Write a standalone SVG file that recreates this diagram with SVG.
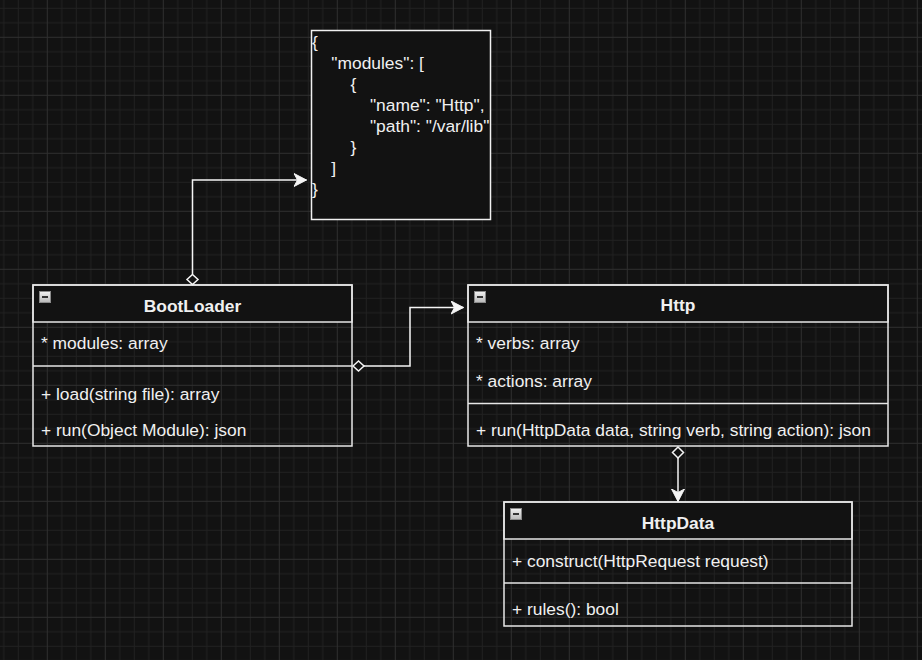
<svg xmlns="http://www.w3.org/2000/svg" width="922" height="660" viewBox="0 0 922 660">
<defs>
<pattern id="grid" patternUnits="userSpaceOnUse" x="46.8" y="36.8" width="58" height="58">
<rect x="0" y="0" width="58" height="58" fill="#121212"/>
<rect x="14.5" y="0" width="1" height="58" fill="#212121"/>
<rect x="29" y="0" width="1" height="58" fill="#212121"/>
<rect x="43.5" y="0" width="1" height="58" fill="#212121"/>
<rect x="0" y="14.5" width="58" height="1" fill="#212121"/>
<rect x="0" y="29" width="58" height="1" fill="#212121"/>
<rect x="0" y="43.5" width="58" height="1" fill="#212121"/>
<rect x="0" y="0" width="1" height="58" fill="#2f2f2f"/>
<rect x="0" y="0" width="58" height="1" fill="#2f2f2f"/>
</pattern>
<linearGradient id="ig" x1="0" y1="0" x2="0" y2="1">
<stop offset="0" stop-color="#f2f2f2"/>
<stop offset="1" stop-color="#b8b8b8"/>
</linearGradient>
<marker id="arr" viewBox="-13 -7 14 14" refX="0" refY="0" markerWidth="14" markerHeight="14" markerUnits="userSpaceOnUse" orient="auto">
<path d="M0,0 L-12.5,-6.5 L-9,0 L-12.5,6.5 Z" fill="#f5f5f5" stroke="#f5f5f5" stroke-width="1" stroke-linejoin="miter"/>
</marker>
</defs>
<style>
text{font-family:"Liberation Sans",Arial,sans-serif;font-size:17.4px;fill:#f0f0f0}
.t{font-weight:bold;text-anchor:middle}
.box{fill:none;stroke:#e6e6e6;stroke-width:1.5}
.hdr{fill:#121212;stroke:#e6e6e6;stroke-width:1.5}
.ln{stroke:#e6e6e6;stroke-width:1.5}
.ic{fill:url(#ig);stroke:#8a8a8a;stroke-width:1}
.mi{stroke:#222;stroke-width:1.8}
.con{fill:none;stroke:#f5f5f5;stroke-width:1.5}
.dia{fill:#121212;stroke:#f5f5f5;stroke-width:1.5}
</style>
<rect width="922" height="660" fill="url(#grid)"/>

<g id="json">
<rect x="311.5" y="30.5" width="179" height="189" fill="#121212" stroke="#f0f0f0" stroke-width="1.5"/>
<text x="312" y="48">{</text>
<text x="331.3" y="69">"modules": [</text>
<text x="350.6" y="90">{</text>
<text x="369.9" y="111">"name": "Http",</text>
<text x="369.9" y="132">"path": "/var/lib"</text>
<text x="350.6" y="153">}</text>
<text x="331.3" y="174">]</text>
<text x="312" y="195">}</text>
</g>

<g id="bootloader">
<rect class="hdr" x="33" y="285" width="319" height="37"/>
<rect class="box" x="33" y="285" width="319" height="161"/>
<line class="ln" x1="33" y1="366" x2="352" y2="366"/>
<rect class="ic" x="39.5" y="291.5" width="11" height="11"/>
<line class="mi" x1="42" y1="297" x2="48" y2="297"/>
<text class="t" x="192.5" y="311.5">BootLoader</text>
<text x="41" y="349">* modules: array</text>
<text x="41" y="399.5">+ load(string file): array</text>
<text x="41" y="436">+ run(Object Module): json</text>
</g>

<g id="http">
<rect class="hdr" x="468" y="285" width="420" height="37"/>
<rect class="box" x="468" y="285" width="420" height="161"/>
<line class="ln" x1="468" y1="403.5" x2="888" y2="403.5"/>
<rect class="ic" x="474.5" y="291.5" width="11" height="11"/>
<line class="mi" x1="477" y1="297" x2="483" y2="297"/>
<text class="t" x="678" y="311">Http</text>
<text x="476" y="349">* verbs: array</text>
<text x="476" y="387">* actions: array</text>
<text x="476" y="436">+ run(HttpData data, string verb, string action): json</text>
</g>

<g id="httpdata">
<rect class="hdr" x="504" y="502" width="348" height="37"/>
<rect class="box" x="504" y="502" width="348" height="124"/>
<line class="ln" x1="504" y1="583" x2="852" y2="583"/>
<rect class="ic" x="510.5" y="508.5" width="11" height="11"/>
<line class="mi" x1="513" y1="514" x2="519" y2="514"/>
<text class="t" x="678" y="528.5">HttpData</text>
<text x="512" y="567">+ construct(HttpRequest request)</text>
<text x="512" y="615">+ rules(): bool</text>
</g>

<g id="connectors">
<path class="con" d="M192.5 274.5 V180 H306.5" marker-end="url(#arr)"/>
<polygon class="dia" points="192.5,274.5 198,279.5 192.5,284.5 187,279.5"/>
<path class="con" d="M364 366 H410 V307.5 H463.5" marker-end="url(#arr)"/>
<polygon class="dia" points="353,366 358.5,361 364,366 358.5,371"/>
<path class="con" d="M678 458 V501.5" marker-end="url(#arr)"/>
<polygon class="dia" points="678,447 683.5,452.5 678,458 672.5,452.5"/>
</g>
</svg>
